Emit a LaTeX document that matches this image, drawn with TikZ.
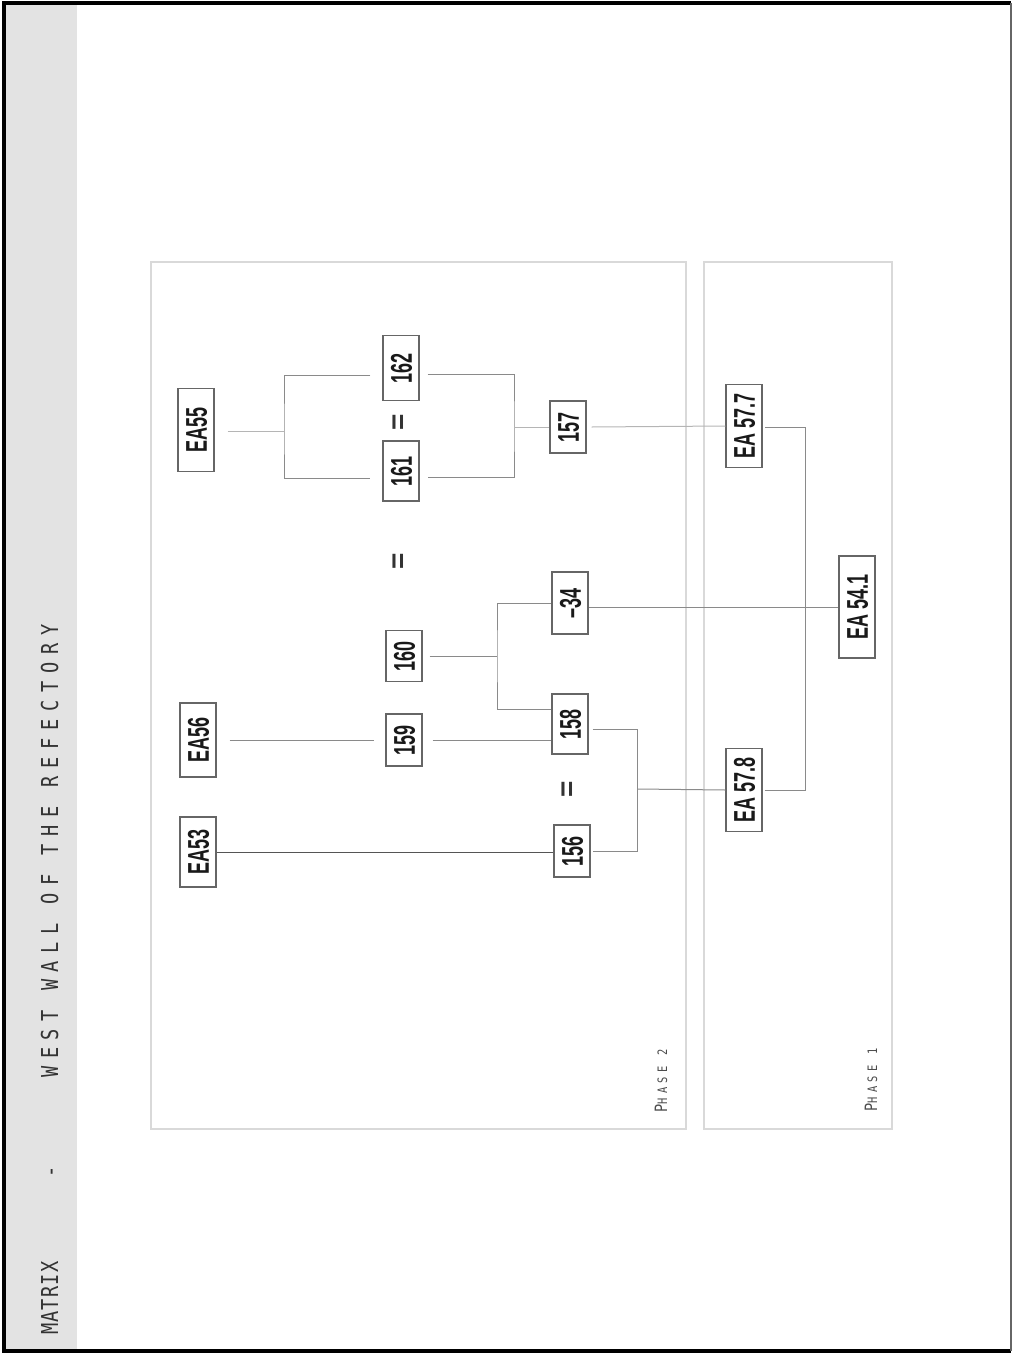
\documentclass[tikz,border=0pt]{standalone}
\usepackage{fontspec}
\usetikzlibrary{calc}
\newfontfamily\nodefont{Liberation Sans}[FakeStretch=0.6]
\newfontfamily\titlefont{DejaVu Sans Mono}[FakeStretch=0.8, LetterSpace=33]
\newfontfamily\titlefonttight{DejaVu Sans Mono}[FakeStretch=0.8, LetterSpace=5]
\newfontfamily\phasefont{DejaVu Sans Mono}[FakeStretch=0.8, LetterSpace=35]
\newfontfamily\eqfont{Liberation Sans}
\definecolor{boxgray}{HTML}{666666}
\definecolor{phasegray}{HTML}{D9D9D9}
\definecolor{sidegray}{HTML}{E3E3E3}
\definecolor{lnmid}{HTML}{8A8A8A}
\definecolor{lnlight}{HTML}{B5B5B5}
\definecolor{lndark}{HTML}{555555}
\begin{document}
\begin{tikzpicture}[x=1pt,y=-1pt,
  ubox/.style={draw=boxgray, line width=1.2pt, rotate=90, minimum height=36pt,
    inner sep=0pt, text height=21.5pt, text depth=0pt, text=black!90,
    font=\nodefont\bfseries\fontsize{30}{30}\selectfont},
  eqsign/.style={rotate=90, inner sep=0pt, text=black!80,
    font=\eqfont\bfseries\fontsize{28}{28}\selectfont},
  titletext/.style={rotate=90, inner sep=0pt, text=black!80,
    font=\titlefont\fontsize{23.3}{23.3}\selectfont},
  phasetext/.style={rotate=90, inner sep=0pt, text=black!70},
  phasebox/.style={draw=phasegray, line width=2.6pt},
  lnA/.style={draw=lnmid, line width=1pt},
  lnB/.style={draw=lnlight, line width=1pt},
  lnC/.style={draw=lndark, line width=1pt}
]
\useasboundingbox (0,0) rectangle (1013,1354);
% frame and sidebar
\fill[sidegray] (6,4) rectangle (77,1350);
\draw[black, line width=4pt] (1011,3) -- (4,3) -- (4,1351) -- (1011,1351);
\draw[black!60, line width=2pt] (1011,3) -- (1011,1351);

% title
\node[titletext, anchor=base west, font=\titlefonttight\fontsize{23.3}{23.3}\selectfont] (tA) at (58,1335) {MATRIX};
\node[titletext, anchor=base] (tB) at (58,1172) {-};
\node[titletext, anchor=base west] (tC) at (58,1078) {WEST WALL OF THE REFECTORY};

% phase boxes
\draw[phasebox] (151,262) rectangle (686,1129);
\draw[phasebox] (704,262) rectangle (892,1129);
\node[phasetext, anchor=base west] (p2) at (667,1113)
  {\phasefont\fontsize{17}{17}\selectfont P\fontsize{13}{13}\selectfont HASE 2};
\node[phasetext, anchor=base west] (p1) at (877,1112)
  {\phasefont\fontsize{17}{17}\selectfont P\fontsize{13}{13}\selectfont HASE 1};

% units
\node[ubox, minimum width=70pt] (ea53) at (198,852) {EA53};
\node[ubox, minimum width=74pt] (ea56) at (198,740) {EA56};
\node[ubox, minimum width=83pt] (ea55) at (196,430) {EA55};
\node[ubox, minimum width=52pt] (n159) at (404,740) {159};
\node[ubox, minimum width=51pt] (n160) at (404,656) {160};
\node[ubox, minimum width=60pt] (n161) at (401,471) {161};
\node[ubox, minimum width=65pt] (n162) at (401,368) {162};
\node[ubox, minimum width=52pt] (n157) at (568,427) {157};
\node[ubox, minimum width=62pt] (m34) at (570,603) {–34};
\node[ubox, minimum width=60pt] (n158) at (570,724) {158};
\node[ubox, minimum width=52pt] (n156) at (572,851) {156};
\node[ubox, minimum width=83pt] (ea578) at (744,790) {EA 57.8};
\node[ubox, minimum width=102pt] (ea541) at (857,607) {EA 54.1};
\node[ubox, minimum width=83pt] (ea577) at (744,426) {EA 57.7};

% equal signs
\node[eqsign] (eq1) at (400,422) {=};
\node[eqsign] (eq2) at (400,561) {=};
\node[eqsign] (eq3) at (569,789) {=};

% junction points
\coordinate (j1) at (497,656);
\coordinate (j2) at (638,789);
\coordinate (j3) at (284,431);
\coordinate (j4) at (514,427);

% connectors
\draw[lnC] (ea53.south) -- (ea53.south -| n156.north);
\draw[lnA] ($(ea56.south)+(13,0)$) -- ($(n159.north)+(-11,0)$);
\draw[lnA] ($(n159.south)+(10,0)$) -- (n159.south -| n158.north);
\draw[lnA] ($(n160.south)+(7,0)$) -- (j1);
\draw[lnA] ($(n158.north)+(0,-15)$) -| (j1) |- (m34.north);
\draw[lnA] ($(n158.south)+(4,5)$) -| ($(n156.south)+(47,0)$) -- ($(n156.south)+(2,0)$);
\draw[lnA] (j2) -- (ea578.north);
\draw[lnA] ($(ea578.south)+(2,0)$) -| ($(ea577.south)+(43,1)$) -- ($(ea577.south)+(2,1)$);
\draw[lnA] (ea541.north -| m34.south) -- (ea541.north);
\draw[lnB] ($(ea55.south)+(13,1)$) -- (j3);
\draw[lnA] ($(n162.north)+(-12,7)$) -| (j3) |- ($(n161.north)+(-12,7)$);
\draw[lnA] ($(n162.south)+(8,6)$) -| (j4) |- ($(n161.south)+(8,6)$);
\draw[lnB] (j4) -- (n157.north);
\draw[lnB] ($(n157.south)+(5,0)$) -- (ea577.north);
\end{tikzpicture}
\end{document}
